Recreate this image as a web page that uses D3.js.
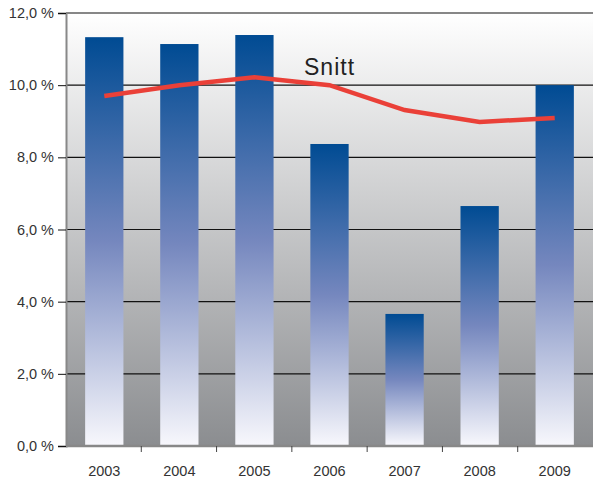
<html>
<head>
<script src="https://d3js.org/d3.v7.min.js"></script>
<style>
  body { margin: 0; background: #fff; }
  text { font-family: "Liberation Sans", Arial, sans-serif; }
</style>
</head>
<body>
<svg width="593" height="481"></svg>
<script>
const years = ['2003', '2004', '2005', '2006', '2007', '2008', '2009'];
const values = [11.33, 11.14, 11.39, 8.37, 3.66, 6.65, 10.0];
const snitt = [9.7, 10.0, 10.22, 10.0, 9.31, 8.98, 9.09];
const yTicks = [0, 2, 4, 6, 8, 10, 12];

const svg = d3.select('svg');
const mLeft = 66, mRight = 593, mTop = 13, mBottom = 446;

const x = d3.scaleBand().domain(years).range([mLeft, mRight]).paddingInner(0.49).paddingOuter(0.255);
const y = d3.scaleLinear().domain([0, 12]).range([mBottom, mTop]);

const defs = svg.append('defs');
const bg = defs.append('linearGradient').attr('id', 'bg').attr('x1', 0).attr('y1', 0).attr('x2', 0).attr('y2', 1);
bg.append('stop').attr('offset', '0%').attr('stop-color', '#ffffff');
bg.append('stop').attr('offset', '100%').attr('stop-color', '#8b8d90');

const bar = defs.append('linearGradient').attr('id', 'bar').attr('x1', 0).attr('y1', 0).attr('x2', 0).attr('y2', 1);
bar.append('stop').attr('offset', '0%').attr('stop-color', '#004b93');
bar.append('stop').attr('offset', '50%').attr('stop-color', '#7587be');
bar.append('stop').attr('offset', '100%').attr('stop-color', '#f7f7fc');

svg.append('rect')
  .attr('x', mLeft).attr('y', mTop)
  .attr('width', mRight - mLeft).attr('height', mBottom - mTop)
  .attr('fill', 'url(#bg)');

// gridlines
svg.append('g').selectAll('line')
  .data(yTicks.slice(1))
  .join('line')
  .attr('x1', mLeft).attr('x2', mRight)
  .attr('y1', d => y(d)).attr('y2', d => y(d))
  .attr('stroke', '#111').attr('stroke-width', 1.2);

// bars
svg.append('g').selectAll('rect')
  .data(values)
  .join('rect')
  .attr('x', (d, i) => x(years[i]))
  .attr('width', x.bandwidth())
  .attr('y', d => y(d))
  .attr('height', d => y(0) - y(d) - 1)
  .attr('fill', 'url(#bar)');

// average line
const line = d3.line()
  .x((d, i) => x(years[i]) + x.bandwidth() / 2)
  .y(d => y(d));
svg.append('path')
  .datum(snitt)
  .attr('d', line)
  .attr('fill', 'none')
  .attr('stroke', '#ea4038')
  .attr('stroke-width', 4.5);

svg.append('text')
  .attr('x', 304).attr('y', 75)
  .attr('font-size', 23)
  .attr('letter-spacing', 1)
  .attr('fill', '#222')
  .text('Snitt');

// axes
const yAxis = svg.append('g')
  .attr('transform', 'translate(' + mLeft + ',0)')
  .call(d3.axisLeft(y).tickValues(yTicks).tickSize(8).tickPadding(4)
    .tickFormat(d => d3.format('.1f')(d).replace('.', ',') + ' %'));
yAxis.select('.domain').attr('stroke', '#888').attr('stroke-width', 2);
yAxis.selectAll('.tick line').attr('stroke', '#111');
yAxis.selectAll('text').attr('font-size', 14.5).attr('fill', '#333');

const xb = d3.scaleLinear().domain([0, years.length]).range([mLeft, mRight]);
const xAxis = svg.append('g')
  .attr('transform', 'translate(0,' + mBottom + ')');
xAxis.append('line')
  .attr('x1', mLeft).attr('x2', mRight)
  .attr('stroke', '#888').attr('stroke-width', 2.5);
xAxis.selectAll('.tk')
  .data(d3.range(1, years.length))
  .join('line')
  .attr('class', 'tk')
  .attr('x1', d => xb(d)).attr('x2', d => xb(d))
  .attr('y1', 0).attr('y2', 6)
  .attr('stroke', '#444');
xAxis.selectAll('.lbl')
  .data(years)
  .join('text')
  .attr('class', 'lbl')
  .attr('x', d => x(d) + x.bandwidth() / 2)
  .attr('y', 30)
  .attr('text-anchor', 'middle')
  .attr('font-size', 14.5)
  .attr('fill', '#333')
  .text(d => d);
</script>
</body>
</html>
